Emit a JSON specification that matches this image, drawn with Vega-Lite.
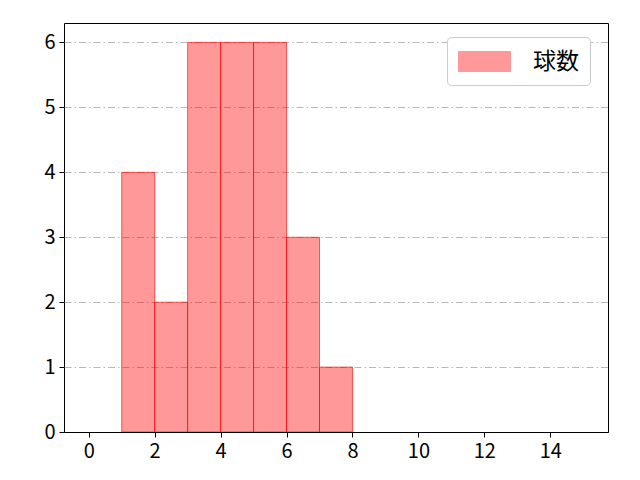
{
  "$schema": "https://vega.github.io/schema/vega-lite/v6.json",
  "autosize": "none",
  "width": 544,
  "height": 409,
  "padding": {"left": 64, "top": 23, "right": 32, "bottom": 48},
  "background": "white",
  "data": {
    "values": [
      {"bin_start": 1, "bin_end": 2, "count": 4, "series": "球数"},
      {"bin_start": 2, "bin_end": 3, "count": 2, "series": "球数"},
      {"bin_start": 3, "bin_end": 4, "count": 6, "series": "球数"},
      {"bin_start": 4, "bin_end": 5, "count": 6, "series": "球数"},
      {"bin_start": 5, "bin_end": 6, "count": 6, "series": "球数"},
      {"bin_start": 6, "bin_end": 7, "count": 3, "series": "球数"},
      {"bin_start": 7, "bin_end": 8, "count": 1, "series": "球数"}
    ]
  },
  "mark": {"type": "rect", "fillOpacity": 0.4, "stroke": "#ff0000", "strokeOpacity": 0.6, "strokeWidth": 1},
  "encoding": {
    "x": {
      "field": "bin_start", "type": "quantitative",
      "scale": {"domain": [-0.75, 15.75], "nice": false, "zero": false},
      "axis": {"values": [0, 2, 4, 6, 8, 10, 12, 14], "title": null, "grid": false, "format": "d", "domain": true, "domainColor": "black", "zindex": 1}
    },
    "x2": {"field": "bin_end"},
    "y": {
      "field": "count", "type": "quantitative",
      "scale": {"domain": [0, 6.3], "nice": false},
      "axis": {"values": [0, 1, 2, 3, 4, 5, 6], "title": null, "grid": true, "format": "d"}
    },
    "y2": {"datum": 0},
    "color": {
      "field": "series", "type": "nominal",
      "scale": {"domain": ["球数"], "range": ["#ff0000"]},
      "legend": {
        "title": null,
        "orient": "none",
        "legendX": 383,
        "legendY": 14,
        "symbolType": "M-1,-0.77H3V0.77H-1Z",
        "symbolSize": 676,
        "symbolOpacity": 0.4,
        "symbolStrokeColor": "#ff0000",
        "symbolStrokeWidth": 1,
        "labelFontSize": 23,
        "labelFont": "Noto Sans CJK JP",
        "labelColor": "black",
        "labelOffset": 48,
        "padding": 11,
        "strokeColor": "#cccccc",
        "fillColor": "white",
        "cornerRadius": 4
      }
    }
  },
  "config": {
    "font": "Noto Sans CJK JP",
    "view": {"stroke": "black", "strokeWidth": 1},
    "axis": {
      "domain": false,
      "tickColor": "black",
      "tickSize": 5,
      "labelFontSize": 20,
      "labelColor": "black",
      "labelPadding": 4,
      "labelFont": "Noto Sans CJK JP",
      "gridColor": "#b0b0b0",
      "gridDash": [7, 3, 1.5, 3],
      "gridWidth": 0.9
    }
  }
}
